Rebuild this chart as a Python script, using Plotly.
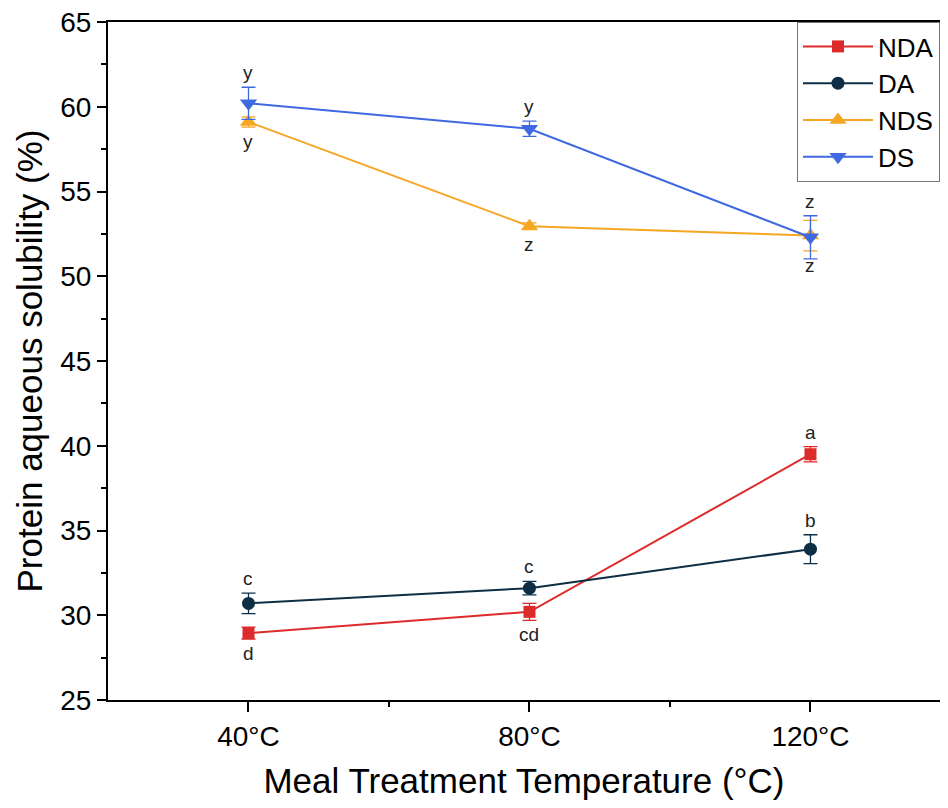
import plotly.graph_objects as go

temps = ["40°C", "80°C", "120°C"]
series_names = ["NDA", "DA", "NDS", "DS"]
nda = [28.95, 30.2, 39.5]
nda_err = [0.35, 0.5, 0.45]
da = [30.7, 31.6, 33.9]
da_err = [0.6, 0.4, 0.85]
nds = [59.1, 52.95, 52.4]
nds_err = [0.3, 0.2, 0.9]
ds = [60.2, 58.7, 52.3]
ds_err = [0.95, 0.45, 1.27]
nda_letters = ["d", "cd", "a"]
da_letters = ["c", "c", "b"]
nds_letters = ["y", "z", "z"]
ds_letters = ["y", "y", "z"]
# letter placement: +1 above, -1 below
nda_pos = [-1, -1, 1]
da_pos = [1, 1, 1]
nds_pos = [-1, -1, -1]
ds_pos = [1, 1, 1]

colors = ["#DD2A2A", "#0E2E45", "#F5A623", "#3F69E0"]
symbols = ["square", "circle", "triangle-up", "triangle-down"]
sizes = [12, 13, 15, 15]

xs = list(range(len(temps)))
data = [nda, da, nds, ds]
errs = [nda_err, da_err, nds_err, ds_err]
letters = [nda_letters, da_letters, nds_letters, ds_letters]
positions = [nda_pos, da_pos, nds_pos, ds_pos]

FONT = "Liberation Sans, Arial, sans-serif"
fig = go.Figure()
for name, vals, err, c, s, sz in zip(series_names, data, errs, colors, symbols, sizes):
    fig.add_trace(go.Scatter(
        x=xs, y=vals, name=name, mode="lines+markers",
        line=dict(color=c, width=2),
        marker=dict(color=c, symbol=s, size=sz),
        error_y=dict(type="data", array=err, visible=True, color=c, thickness=1.3, width=7),
        cliponaxis=False,
    ))

annotations = []
for vals, err, labs, pos in zip(data, errs, letters, positions):
    for i, (v, e, lab, p) in enumerate(zip(vals, err, labs, pos)):
        annotations.append(dict(
            x=xs[i], y=v + p * e, text=lab, showarrow=False,
            yanchor="bottom" if p > 0 else "top",
            yshift=2 * p, font=dict(size=19, color="#222", family=FONT),
        ))

fig.update_layout(
    width=932, height=792,
    margin=dict(l=100, r=0, t=14, b=100),
    paper_bgcolor="white", plot_bgcolor="white",
    font=dict(family=FONT, color="black"),
    showlegend=True,
    legend=dict(x=1, y=1, xanchor="right", yanchor="top",
                bordercolor="#777", borderwidth=1, bgcolor="white",
                font=dict(size=26, family=FONT), itemwidth=70,
                tracegroupgap=0),
    annotations=annotations,
)
fig.update_xaxes(
    range=[-0.5, 2.461], tickvals=xs, ticktext=temps, automargin=False,
    showline=True, linecolor="black", linewidth=2, mirror=True,
    ticks="outside", ticklen=10, tickwidth=2, tickcolor="black",
    tickfont=dict(size=28, family=FONT), showgrid=False, zeroline=False,
    ticklabeloverflow="allow",
    minor=dict(tickvals=[0.5, 1.5], ticks="outside", ticklen=5, tickwidth=2, tickcolor="black"),
    title=dict(text="Meal Treatment Temperature (°C)", font=dict(size=35, family=FONT), standoff=20),
)
fig.update_yaxes(
    range=[25, 65], tickvals=[25, 30, 35, 40, 45, 50, 55, 60, 65], automargin=False,
    showline=True, linecolor="black", linewidth=2, mirror=True,
    ticks="outside", ticklen=9, tickwidth=2, tickcolor="black",
    tickfont=dict(size=28, family=FONT), showgrid=False, zeroline=False,
    ticklabeloverflow="allow",
    minor=dict(tickvals=[27.5, 32.5, 37.5, 42.5, 47.5, 52.5, 57.5, 62.5], ticks="outside", ticklen=5, tickwidth=2, tickcolor="black"),
    title=dict(text="Protein aqueous solubility (%)", font=dict(size=35, family=FONT), standoff=7),
)

fig.write_html("out.html")
